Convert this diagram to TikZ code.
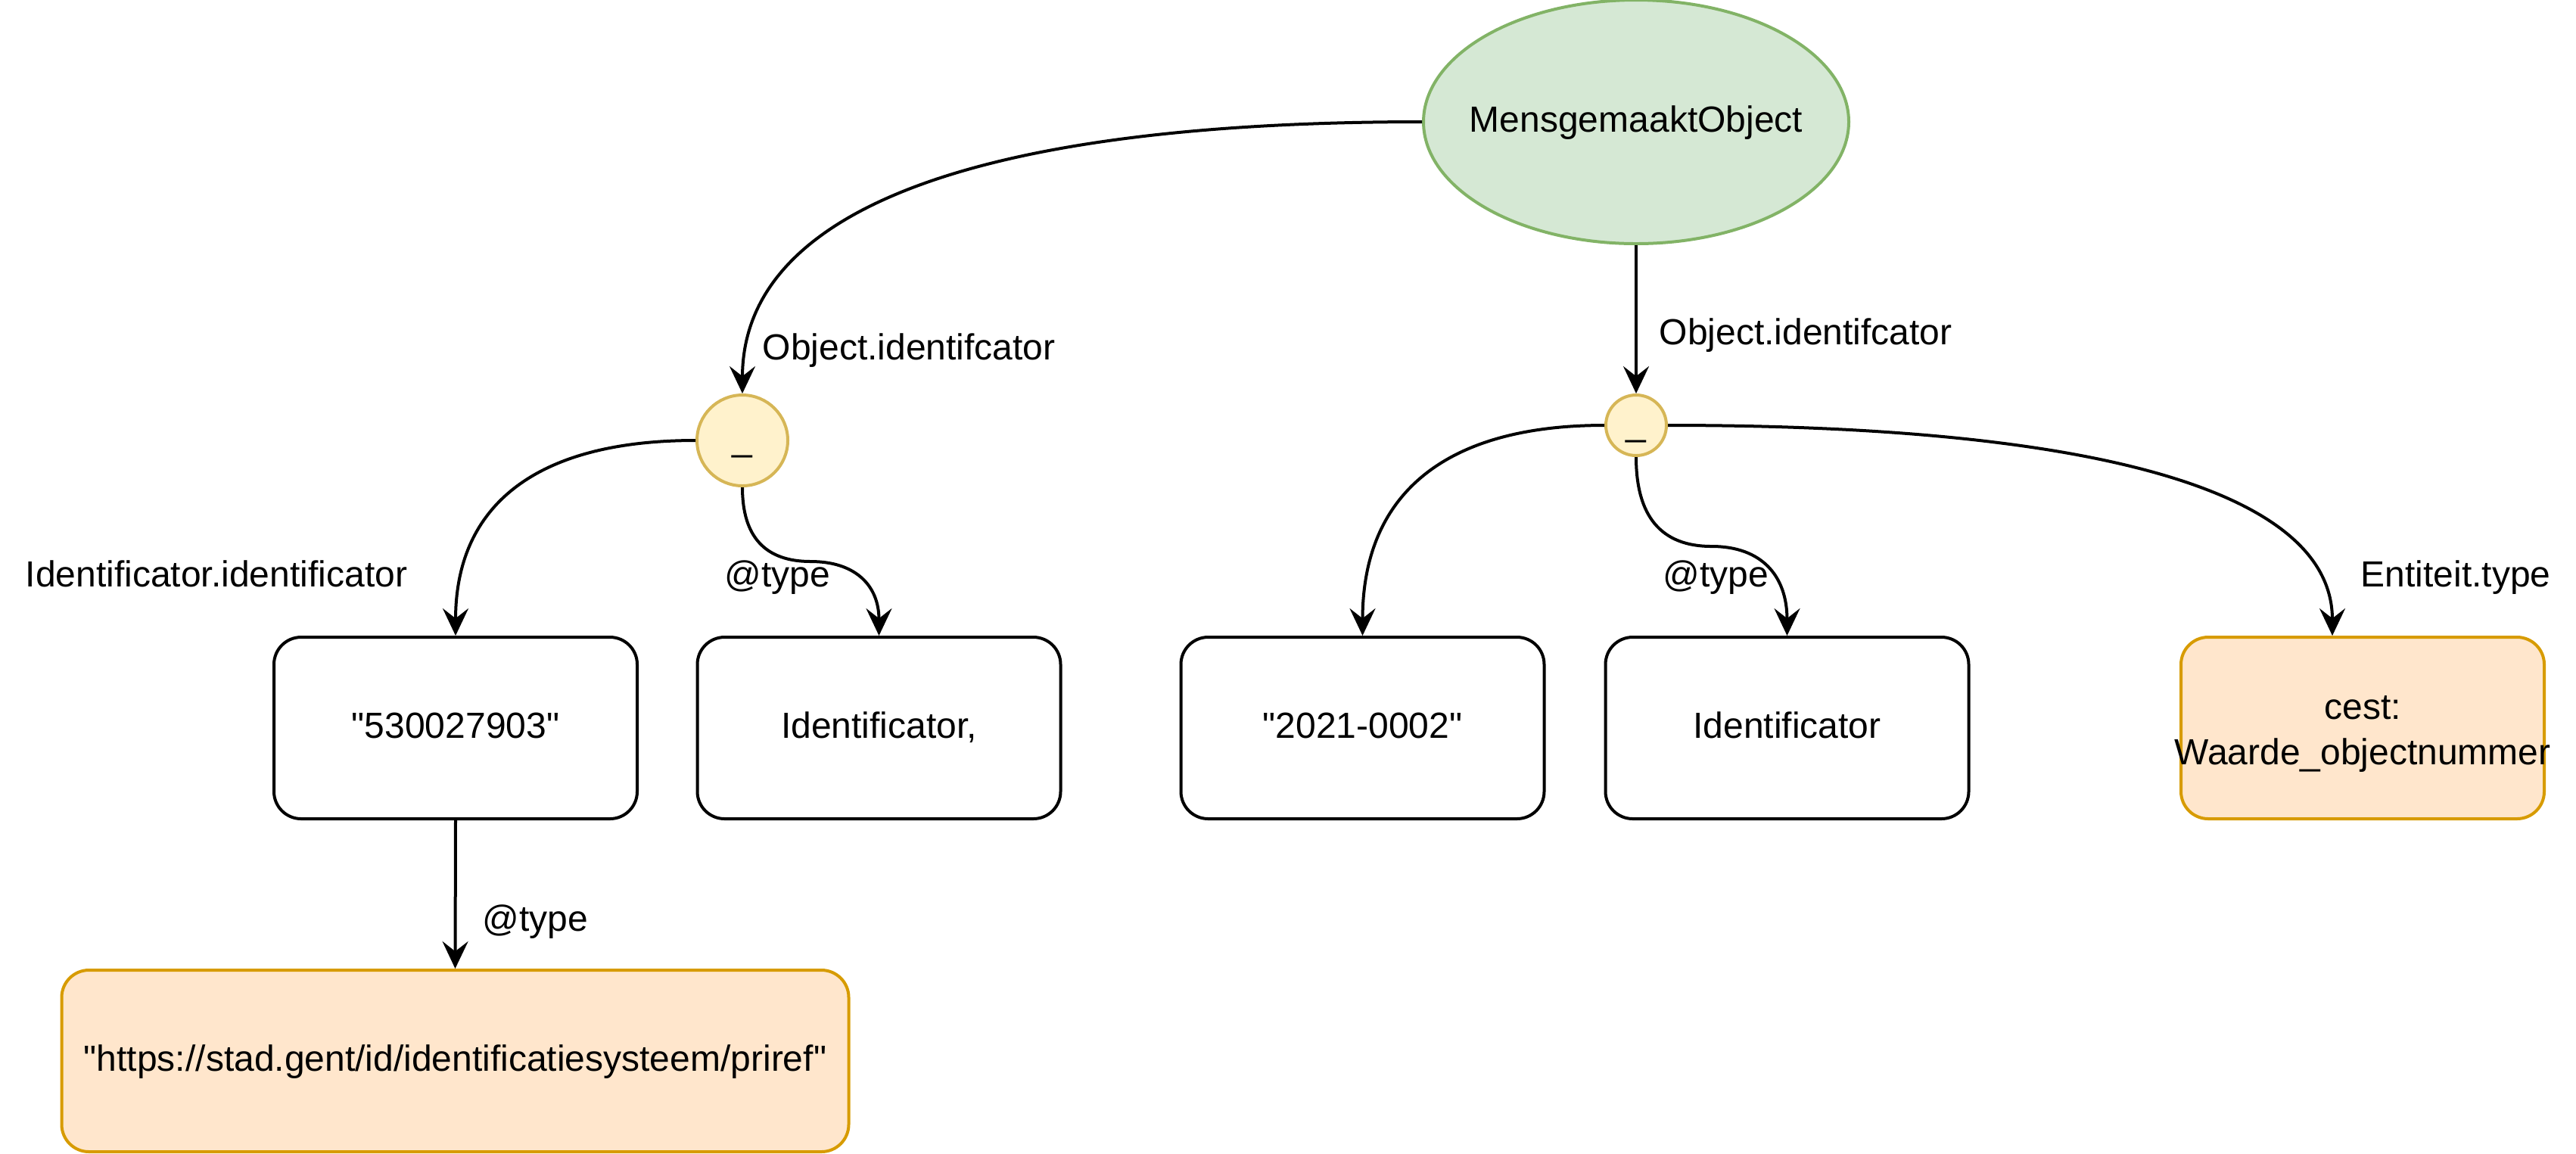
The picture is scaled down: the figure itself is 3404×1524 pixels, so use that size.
\documentclass[tikz,border=0pt]{standalone}
\usepackage{fontspec}
\setmainfont{Liberation Sans}[Ligatures=TeXOff]
\usetikzlibrary{arrows.meta,calc,shapes.geometric}
\definecolor{gfill}{HTML}{D5E8D4}
\definecolor{gline}{HTML}{82B366}
\definecolor{yfill}{HTML}{FFF2CC}
\definecolor{yline}{HTML}{D6B656}
\definecolor{ofill}{HTML}{FFE6CC}
\definecolor{oline}{HTML}{D79B00}
\newcommand{\sq}{\symbol{34}}
\begin{document}
\begin{tikzpicture}[x=0.25pt,y=-0.25pt,
  txt/.style={font=\fontsize{12}{14}\selectfont, text height=9pt, text depth=2.5pt},
  valbox/.style={draw=black, line width=1pt, fill=white, rounded corners=9pt, minimum width=120pt, minimum height=60pt, inner sep=0pt, txt},
  litbox/.style={valbox, draw=oline, fill=ofill},
  blank/.style={circle, draw=yline, fill=yfill, line width=1pt, inner sep=0pt, txt},
  root/.style={ellipse, draw=gline, fill=gfill, line width=1pt, minimum width=140.5pt, minimum height=80.5pt, inner sep=0pt},
  elabel/.style={anchor=base west, inner sep=0pt, font=\fontsize{12}{14}\selectfont},
  edge/.style={draw=black, line width=1pt, -{Stealth[length=9pt,width=8.5pt,inset=3.3pt]}}
]
\useasboundingbox (0,0) rectangle (3404,1524);

% nodes
\node[root] (root) at (2162,161) {};
\node[txt] (roott) at (root.center) {MensgemaaktObject};
\node[blank, minimum size=30pt] (b1) at (981,582) {\_};
\node[blank, minimum size=20pt] (b2) at (2162,562) {\_};

\node[valbox] (v1) at (602,962) {\sq530027903\sq};
\node[valbox] (v2) at (1161.5,962) {Identificator,};
\node[valbox] (v3) at (1800.5,962) {\sq2021-0002\sq};
\node[valbox] (v4) at (2361.5,962) {Identificator};
\node[litbox] (v5) at (3122,962) {};
\node[align=center, font=\fontsize{12}{15}\selectfont, yshift=-2pt] (v5t) at (v5.center) {cest:\\Waarde\_objectnummer};
\node[litbox, minimum width=260pt] (lit1) at (601.5,1402) {\sq https://stad.gent/id/identificatiesysteem/priref\sq};

% labels
\node[elabel] (l1) at (1007,475) {Object.identifcator};
\node[elabel] (l2) at (2192,455) {Object.identifcator};
\node[elabel] (l3) at (33,775) {Identificator.identificator};
\node[elabel] (l4) at (957,775) {@type};
\node[elabel] (l5) at (2197,775) {@type};
\node[elabel] (l6) at (3119,775) {Entiteit.type};
\node[elabel] (l7) at (637,1230) {@type};

% helper coordinates
\coordinate (m1) at ($(b1.south)!0.5!(v2.north)$);
\coordinate (m2) at ($(b2.south)!0.5!(v4.north)$);
\coordinate (t5) at ([xshift=-10pt]v5.north);

% edges
\draw[edge] (root.west) .. controls ($(root.west)!2/3!(b1.north|-root.west)$) and ($(b1.north)!2/3!(b1.north|-root.west)$) .. (b1.north);
\draw[edge] (b1.west) .. controls ($(b1.west)!2/3!(v1.north|-b1.west)$) and ($(v1.north)!2/3!(v1.north|-b1.west)$) .. (v1.north);
\draw[edge] (b1.south) .. controls ($(b1.south)!2/3!(b1.south|-m1)$) and ($(m1)!2/3!(b1.south|-m1)$) .. (m1)
   .. controls ($(m1)!2/3!(v2.north|-m1)$) and ($(v2.north)!2/3!(v2.north|-m1)$) .. (v2.north);
\draw[edge] (v1.south) -- (lit1.north);

\draw[edge] (root.south) -- (b2.north);
\draw[edge] (b2.west) .. controls ($(b2.west)!2/3!(v3.north|-b2.west)$) and ($(v3.north)!2/3!(v3.north|-b2.west)$) .. (v3.north);
\draw[edge] (b2.south) .. controls ($(b2.south)!2/3!(b2.south|-m2)$) and ($(m2)!2/3!(b2.south|-m2)$) .. (m2)
   .. controls ($(m2)!2/3!(v4.north|-m2)$) and ($(v4.north)!2/3!(v4.north|-m2)$) .. (v4.north);
\draw[edge] (b2.east) .. controls ($(b2.east)!2/3!(t5|-b2.east)$) and ($(t5)!2/3!(t5|-b2.east)$) .. (t5);
\end{tikzpicture}
\end{document}
